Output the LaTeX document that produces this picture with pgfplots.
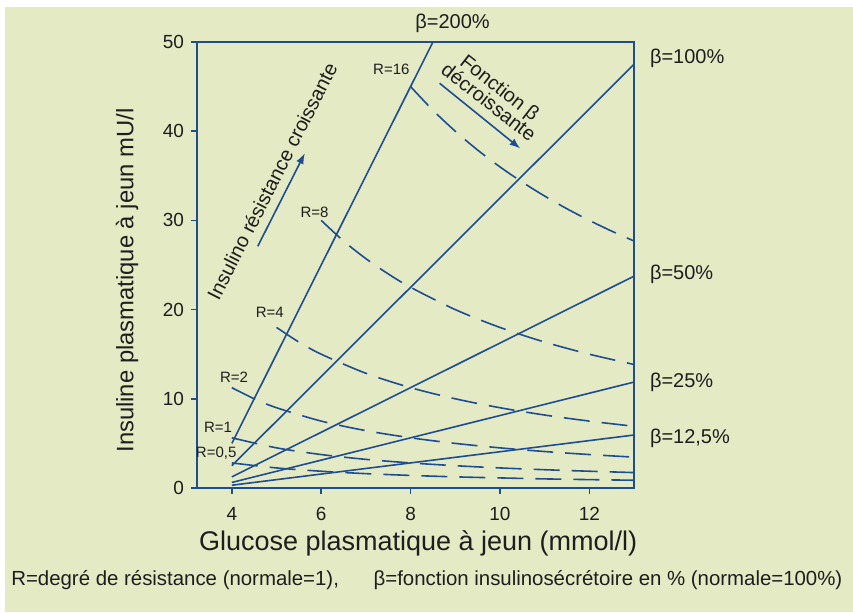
\documentclass[border=0pt]{standalone}
\usepackage{pgfplots}
\pgfplotsset{compat=1.18}
\usepackage{fontspec}
\setmainfont{Liberation Sans}
\definecolor{bgc}{RGB}{227,234,196}
\definecolor{lineblue}{RGB}{30,78,145}
\definecolor{txt}{RGB}{30,30,30}

\begin{document}
\begin{tikzpicture}
% page background (white rim on top and left, as in the scan)
\fill[white] (-98.5pt,-62pt) rectangle (328pt,244pt);
\fill[bgc] (-96pt,-62pt) rectangle (328pt,240.5pt);
\begin{axis}[
  scale only axis, width=218.5pt, height=223pt,
  xmin=3.22, xmax=13, ymin=0, ymax=50,
  xtick={4,6,8,10,12}, ytick={0,10,20,30,40,50},
  xtick pos=bottom, ytick pos=left, tick align=outside,
  major tick length=3pt,
  tick style={lineblue,line width=0.8pt},
  axis line style={lineblue,line width=1pt},
  /pgf/number format/assume math mode=true,
  yticklabel style={font=\fontsize{9.5}{10}\selectfont,text=txt},
  xticklabel style={font=\fontsize{9.5}{10}\selectfont,text=txt,yshift=-3pt},
  xlabel={Glucose plasmatique à jeun (mmol/l)},
  ylabel={Insuline plasmatique à jeun mU/l},
  every axis x label/.style={at={(rel axis cs:0.506,-0.123)},anchor=center,
    font=\fontsize{13.5}{14}\selectfont,text=txt},
  every axis y label/.style={at={(rel axis cs:-0.160,0.465)},anchor=center,rotate=90,
    font=\fontsize{11.9}{12}\selectfont,text=txt},
  clip=false,
  bline/.style={lineblue,line width=0.8pt,mark=none},
  rcurve/.style={bline,dash pattern=on 13pt off 6pt,smooth},
]
% beta lines (solid)
\addplot[bline] coordinates {(4,5) (8.5,50)};
\addplot[bline] coordinates {(4,2.5) (13,47.5)};
\addplot[bline] coordinates {(4,1.25) (13,23.75)};
\addplot[bline] coordinates {(4,0.625) (13,11.875)};
\addplot[bline] coordinates {(4,0.3125) (13,5.94)};
% R curves (dashed)
\addplot[rcurve] coordinates {(8,45) (8.5,42.35) (9,40) (9.5,37.89) (10,36) (10.5,34.29) (11,32.73) (11.5,31.30) (12,30) (12.5,28.8) (13,27.69)};
\addplot[rcurve] coordinates {(6,30) (6.5,27.69) (7,25.71) (7.5,24) (8,22.5) (9,20) (10,18) (11,16.36) (12,15) (13,13.85)};
\addplot[rcurve] coordinates {(5,18) (5.5,16.36) (6,15) (7,12.86) (8,11.25) (9,10) (10,9) (11,8.18) (12,7.5) (13,6.92)};
\addplot[rcurve] coordinates {(4,11.25) (4.5,10) (5,9) (6,7.5) (7,6.43) (8,5.63) (9,5) (10,4.5) (11,4.09) (12,3.75) (13,3.46)};
\addplot[rcurve] coordinates {(4,5.63) (5,4.5) (6,3.75) (7,3.21) (8,2.81) (9,2.5) (10,2.25) (11,2.05) (12,1.88) (13,1.73)};
\addplot[rcurve] coordinates {(4,2.81) (5,2.25) (6,1.88) (7,1.61) (8,1.41) (9,1.25) (10,1.13) (11,1.02) (12,0.94) (13,0.87)};
% beta labels
\begin{scope}[every node/.style={font=\fontsize{10}{11}\selectfont,text=txt}]
\node at (axis cs:8.94,52.1) {β=200\%};
\node[anchor=west] at (axis cs:13.2,48.2) {β=100\%};
\node[anchor=west] at (axis cs:13.2,23.9) {β=50\%};
\node[anchor=west] at (axis cs:13.2,11.8) {β=25\%};
\node[anchor=west] at (axis cs:13.2,5.6) {β=12,5\%};
\end{scope}
% R labels
\begin{scope}[every node/.style={font=\fontsize{7.5}{8}\selectfont,text=txt,inner sep=0pt}]
\node at (axis cs:7.57,46.9) {R=16};
\node at (axis cs:5.85,30.9) {R=8};
\node at (axis cs:4.85,19.7) {R=4};
\node at (axis cs:4.05,12.4) {R=2};
\node at (axis cs:3.69,6.8) {R=1};
\node at (axis cs:3.65,3.9) {R=0,5};
\end{scope}
% annotations
\node[rotate=63,font=\fontsize{10}{11}\selectfont,text=txt] at (axis cs:4.9,34.4) {Insulino résistance croissante};
\draw[lineblue,line width=0.8pt,-latex] (axis cs:4.58,27.1) -- (axis cs:5.63,37.5);
\node[rotate=-38,font=\fontsize{10}{11}\selectfont,text=txt,align=center] at (axis cs:9.88,44.1) {Fonction β\\[-2pt]décroissante};
\draw[lineblue,line width=0.8pt,-latex] (axis cs:8.65,45.37) -- (axis cs:10.45,38.08);
% footnote
\node[font=\fontsize{10.2}{11}\selectfont,text=txt] at (rel axis cs:0.526,-0.206)
  {R=degré de résistance (normale=1),\hspace{1.7em}β=fonction insulinosécrétoire en \% (normale=100\%)};
\end{axis}
\end{tikzpicture}
\end{document}
